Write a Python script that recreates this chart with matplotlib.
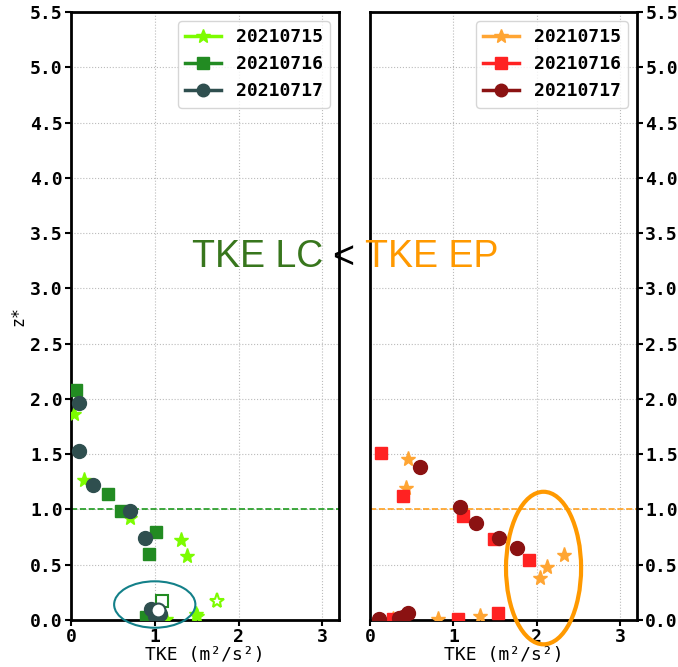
import matplotlib
matplotlib.use("Agg")
import matplotlib.pyplot as plt
from matplotlib.lines import Line2D
from matplotlib.patches import Ellipse

# left panel (LC)
lc_dates = ["20210715", "20210716", "20210717"]
lc_tke_15 = [0.04, 0.16, 0.70, 1.31, 1.38, 1.49, 1.51, 1.13]
lc_z_15 = [1.86, 1.27, 0.92, 0.72, 0.58, 0.05, 0.04, 0.01]
lc_tke_16 = [0.06, 0.44, 0.60, 1.02, 0.93, 0.90]
lc_z_16 = [2.08, 1.14, 0.99, 0.80, 0.60, 0.03]
lc_tke_17 = [0.09, 0.10, 0.26, 0.70, 0.88, 0.95, 1.00, 1.06]
lc_z_17 = [1.96, 1.53, 1.22, 0.985, 0.74, 0.10, 0.04, 0.05]
# surface (hollow) points
lc_surf_tke = [1.74, 1.09, 1.04]
lc_surf_z = [0.17, 0.17, 0.09]

# right panel (EP)
ep_tke_15 = [0.45, 0.43, 2.04, 2.12, 2.33, 0.27, 0.82, 1.32]
ep_z_15 = [1.46, 1.19, 0.38, 0.48, 0.59, 0.01, 0.01, 0.04]
ep_tke_16 = [0.13, 0.39, 1.11, 1.49, 1.91, 0.28, 1.05, 1.54]
ep_z_16 = [1.51, 1.12, 0.94, 0.73, 0.54, 0.01, 0.01, 0.06]
ep_tke_17 = [0.60, 1.08, 1.27, 1.55, 1.76, 0.11, 0.35, 0.39, 0.45]
ep_z_17 = [1.38, 1.02, 0.88, 0.74, 0.65, 0.01, 0.02, 0.03, 0.06]

lc_colors = ["#7CFC00", "#228B22", "#2F4F4F"]
ep_colors = ["#FFA533", "#FF2222", "#8B1212"]
markers = ["*", "s", "o"]
msizes = [11, 9, 10]

mono = "DejaVu Sans Mono"

fig = plt.figure(figsize=(6.78, 6.67), dpi=100)
ax1 = fig.add_axes([71/678, 47/667, 268/678, 608/667])
ax2 = fig.add_axes([370/678, 47/667, 267/678, 608/667])

def style(ax, right=False):
    ax.set_xlim(0, 3.2)
    ax.set_ylim(0, 5.5)
    ax.set_xticks([0, 1, 2, 3])
    ax.set_yticks([i*0.5 for i in range(12)])
    if right:
        ax.yaxis.tick_right()
    ax.grid(True, linestyle=":", color="#bbbbbb", linewidth=0.8)
    for s in ax.spines.values():
        s.set_linewidth(2)
    labs = ax.xaxis.get_majorticklabels() + ax.yaxis.get_majorticklabels()
    for lab in labs:
        lab.set_family(mono)
        lab.set_weight("bold")
        lab.set_fontsize(13)
    ax.tick_params(width=1.5, length=4, pad=2)
    ax.set_xlabel("TKE (m\u00b2/s\u00b2)", family=mono, fontsize=13, labelpad=0)

def points(ax, xs, ys, c, m, ms):
    ax.plot(xs, ys, linestyle="none", marker=m, color=c, markersize=ms, zorder=3)

style(ax1)
style(ax2, right=True)
ax1.set_ylabel("z*", family=mono, fontsize=12, labelpad=2)

lc_data = [(lc_tke_15, lc_z_15), (lc_tke_16, lc_z_16), (lc_tke_17, lc_z_17)]
ep_data = [(ep_tke_15, ep_z_15), (ep_tke_16, ep_z_16), (ep_tke_17, ep_z_17)]
for i in range(3):
    points(ax1, lc_data[i][0], lc_data[i][1], lc_colors[i], markers[i], msizes[i])
    points(ax2, ep_data[i][0], ep_data[i][1], ep_colors[i], markers[i], msizes[i])
    ax1.plot(lc_surf_tke[i], lc_surf_z[i], linestyle="none", marker=markers[i],
             markerfacecolor="white", markeredgecolor=lc_colors[i],
             markeredgewidth=1.5, markersize=msizes[i], zorder=4)

ax1.axhline(1.0, color="#1E9A1E", linestyle="--", linewidth=1.2, zorder=2.5)
ax2.axhline(1.0, color="#FFA020", linestyle="--", linewidth=1.2, zorder=2.5)

ax1.add_patch(Ellipse((1.0, 0.14), 0.97, 0.42, fill=False, edgecolor="#138089",
                      linewidth=1.5, zorder=5, clip_on=False))
ax2.add_patch(Ellipse((2.08, 0.47), 0.90, 1.38, fill=False, edgecolor="#FF9900",
                      linewidth=3, zorder=5, clip_on=False))

for ax, cols in ((ax1, lc_colors), (ax2, ep_colors)):
    handles = [Line2D([], [], color=cols[i], marker=markers[i], markersize=msizes[i] - 1,
                      linewidth=2.5) for i in range(3)]
    ax.legend(handles, lc_dates, loc="upper right",
              prop={"family": mono, "weight": "bold", "size": 13})

fig.text(0.283, 0.599, "TKE LC", color="#38761D", fontsize=27, family="Liberation Sans")
fig.text(0.490, 0.599, "<", color="black", fontsize=27, family="Liberation Sans")
fig.text(0.538, 0.599, "TKE EP", color="#FF9900", fontsize=27, family="Liberation Sans")

fig.savefig("out.png", dpi=100)
